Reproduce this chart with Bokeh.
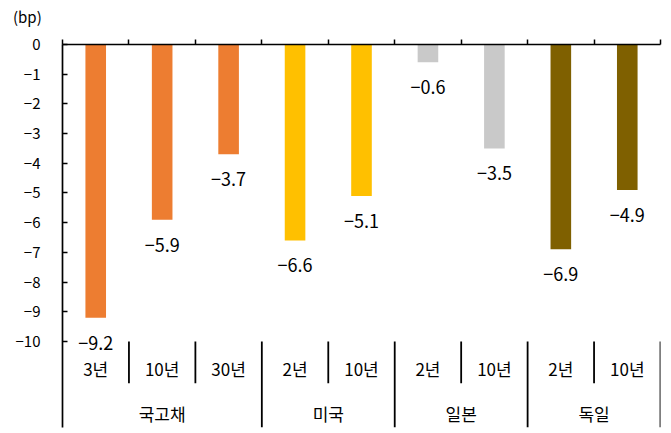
from bokeh.plotting import figure
from bokeh.models import Range1d, FixedTicker, LinearAxis, Div
from bokeh.layouts import column
from bokeh.core.properties import value
from bokeh.embed import file_html
from bokeh.resources import INLINE

# ---- data ----
groups = ["국고채", "미국", "일본", "독일"]
group_sizes = [3, 2, 2, 2]
sub_labels = ["3년", "10년", "30년", "2년", "10년", "2년", "10년", "2년", "10년"]
values = [-9.2, -5.9, -3.7, -6.6, -5.1, -0.6, -3.5, -6.9, -4.9]
group_colors = ["#ED7D31", "#FFC000", "#C9C9C9", "#7F6000"]
y_ticks = [0, -1, -2, -3, -4, -5, -6, -7, -8, -9, -10]
y_tick_labels = ["0", "−1", "−2", "−3", "−4", "−5", "−6", "−7", "−8", "−9", "−10"]
unit_label = "(bp)"

FONT = "Noto Sans CJK KR"
n = len(values)
colors = []
for g, s in zip(group_colors, group_sizes):
    colors += [g] * s
xc = [i + 0.5 for i in range(n)]

HEAD = 30
Y_MIN = -12.9
p = figure(width=671, height=433 - HEAD, output_backend="svg", toolbar_location=None,
           x_range=Range1d(0, n), y_range=Range1d(Y_MIN, 0),
           min_border_left=62, min_border_right=11, min_border_top=44 - HEAD, min_border_bottom=6,
           x_axis_location=None, y_axis_location=None, margin=0)
p.xgrid.visible = False
p.ygrid.visible = False
p.outline_line_color = None
p.background_fill_color = "white"
p.border_fill_color = "white"

# left axis
ya = LinearAxis(ticker=FixedTicker(ticks=y_ticks))
ya.major_label_overrides = {t: l for t, l in zip(y_ticks, y_tick_labels)}
ya.major_tick_in = 5
ya.major_tick_out = 0
ya.minor_tick_line_color = None
ya.axis_line_width = 1.7
ya.major_tick_line_width = 1.5
ya.axis_line_color = "black"
ya.major_label_standoff = 22
ya.major_label_text_font = FONT
ya.major_label_text_font_size = "15px"
ya.major_label_text_color = "black"
p.add_layout(ya, "left")

# zero line axis above
xa = LinearAxis(ticker=FixedTicker(ticks=list(range(n + 1))))
xa.major_tick_in = 0
xa.major_tick_out = 5
xa.minor_tick_line_color = None
xa.axis_line_width = 1.7
xa.major_tick_line_width = 1.5
xa.major_label_text_font_size = "0px"
xa.major_label_text_color = None
xa.major_label_standoff = 0
p.add_layout(xa, "above")

# bars
p.vbar(x=xc, top=0, bottom=values, width=0.31, fill_color=colors, line_color=None)

# value labels
p.text(x=xc, y=values, text=[f"{v:.1f}".replace("-", "−") for v in values],
       y_offset=25, text_align="center", text_baseline="middle",
       text_font=value(FONT), text_font_size="18px", text_color="black")

# category axis separators
Y_SUB_BOTTOM = -11.41
inner_x = []
pos = 0
bounds = [0]
for s in group_sizes:
    for k in range(1, s):
        inner_x.append(pos + k)
    pos += s
    bounds.append(pos)
p.segment(x0=inner_x, y0=-10, x1=inner_x, y1=Y_SUB_BOTTOM, line_color="black", line_width=1.8)
p.segment(x0=bounds[1:], y0=-10, x1=bounds[1:], y1=Y_MIN, line_color="black", line_width=1.8)

p.text(x=xc, y=-10.92, text=sub_labels, text_align="center", text_baseline="middle",
       text_font=value(FONT), text_font_size="17px", text_color="black")
gx = [(bounds[i] + bounds[i + 1]) / 2 for i in range(len(groups))]
p.text(x=gx, y=-12.42, text=groups, text_align="center", text_baseline="middle",
       text_font=value(FONT), text_font_size="17px", text_color="black")

head = Div(text=f'<div style="position:absolute; left:13px; top:7px; font-family:\'{FONT}\'; '
                f'font-size:15px; line-height:20px; color:black; white-space:nowrap;">{unit_label}</div>',
           width=671, height=HEAD, margin=0)

layout = column(head, p, spacing=0, margin=0)
open("out.html", "w").write(file_html(layout, INLINE))
